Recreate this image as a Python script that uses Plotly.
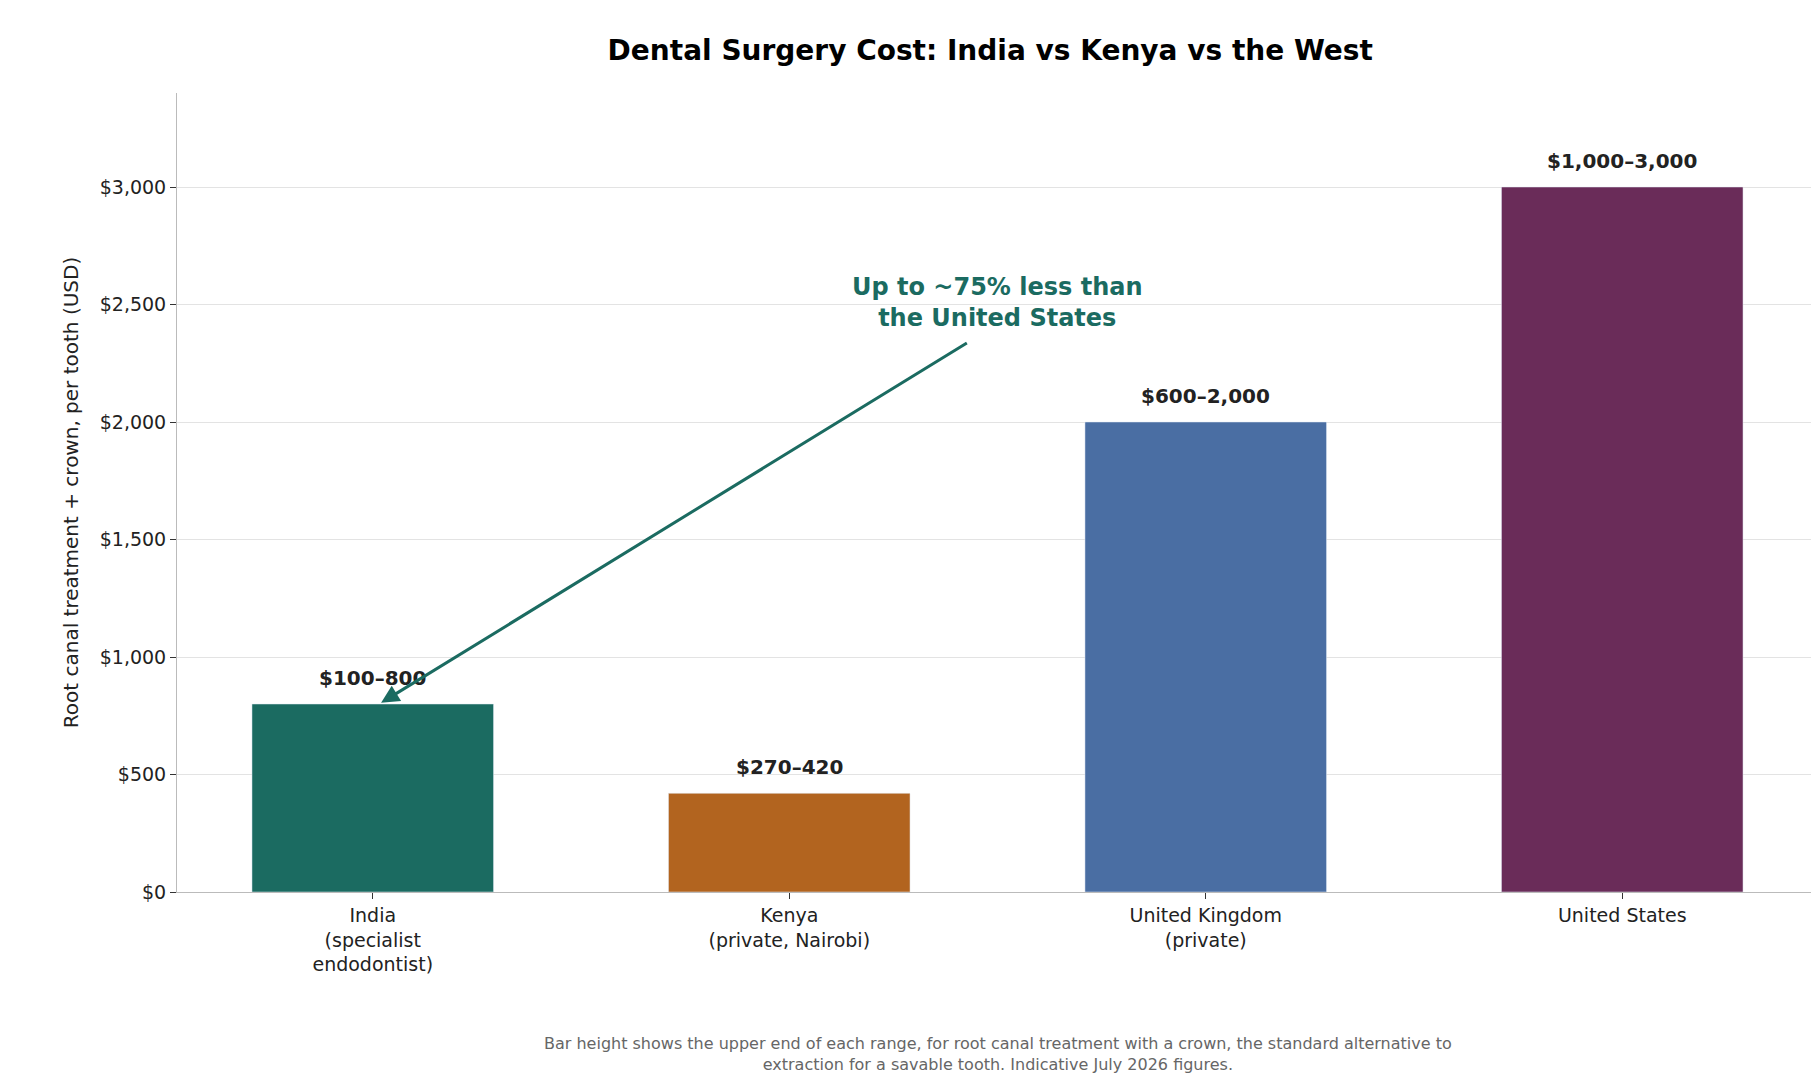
import plotly.graph_objects as go

categories = ["India<br>(specialist<br>endodontist)", "Kenya<br>(private, Nairobi)", "United Kingdom<br>(private)", "United States"]
upper = [800, 420, 2000, 3000]
labels = ["$100–800", "$270–420", "$600–2,000", "$1,000–3,000"]
colors = ["#1b6b61", "#b2641f", "#4a6ea3", "#6a2c59"]
ticks = [0, 500, 1000, 1500, 2000, 2500, 3000]

fig = go.Figure(go.Bar(x=list(range(4)), y=upper, marker_color=colors, width=0.58))
for i, (v, l) in enumerate(zip(upper, labels)):
    fig.add_annotation(x=i, y=v, text="<b>"+l+"</b>", showarrow=False, yanchor="bottom", yshift=12,
                       font=dict(size=20, color="#222"))
fig.update_layout(
    width=1819, height=1083, plot_bgcolor="white", paper_bgcolor="white",
    font=dict(family="DejaVu Sans", size=19, color="#222"),
    title=dict(text="<b>Dental Surgery Cost: India vs Kenya vs the West</b>", x=0.54, xanchor="center", y=0.97, font=dict(size=28, color="black")),
    margin=dict(l=169, r=9, t=85, b=199), showlegend=False,
    xaxis=dict(tickmode="array", tickvals=list(range(4)), ticktext=categories, range=[-0.47, 3.47],
               showline=True, linecolor="#bbb", ticks="outside", tickcolor="#333", ticklen=6),
    yaxis=dict(range=[0, 3400], tickvals=ticks, ticktext=["$"+format(t, ",") for t in ticks],
               showgrid=True, gridcolor="#e3e3e3", showline=True, linecolor="#bbb", ticks="outside",
               tickcolor="#333", ticklen=6, zeroline=False,
               title=dict(text="Root canal treatment + crown, per tooth (USD)", font=dict(size=20))),
)
fig.add_annotation(x=0.02, y=805, ax=1.43, ay=2340, xref="x", yref="y", axref="x", ayref="y",
                   text="", showarrow=True, arrowhead=2, arrowsize=1.2, arrowwidth=3, arrowcolor="#1b6b61")
fig.add_annotation(x=1.5, y=2510, xref="x", yref="y", showarrow=False,
                   text="<b>Up to ~75% less than<br>the United States</b>",
                   font=dict(size=24, color="#1b6b61"))
fig.add_annotation(x=0.5, y=-0.175, xref="paper", yref="paper", xanchor="center", yanchor="top",
                   showarrow=False, align="center",
                   text="Bar height shows the upper end of each range, for root canal treatment with a crown, the standard alternative to<br>extraction for a savable tooth. Indicative July 2026 figures.",
                   font=dict(size=16, color="#666"))
fig.write_html("out.html")
